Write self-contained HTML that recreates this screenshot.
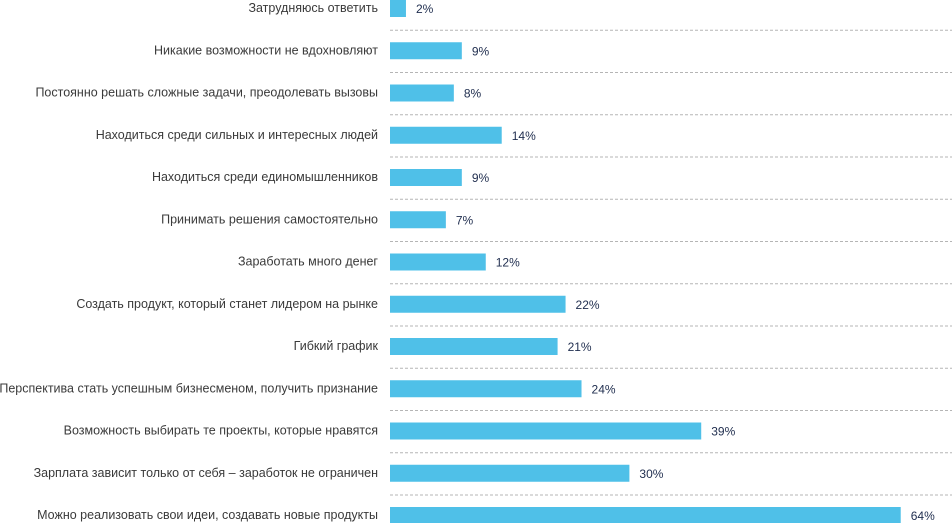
<!DOCTYPE html>
<html><head><meta charset="utf-8"><style>
body{margin:0;background:#fff;width:952px;height:523px;overflow:hidden;font-family:"Liberation Sans",sans-serif}
</style></head><body>
<svg id="c" width="952" height="523"></svg>
<script>
const categories=["Затрудняюсь ответить","Никакие возможности не вдохновляют","Постоянно решать сложные задачи, преодолевать вызовы","Находиться среди сильных и интересных людей","Находиться среди единомышленников","Принимать решения самостоятельно","Заработать много денег","Создать продукт, который станет лидером на рынке","Гибкий график","Перспектива стать успешным бизнесменом, получить признание","Возможность выбирать те проекты, которые нравятся","Зарплата зависит только от себя – заработок не ограничен","Можно реализовать свои идеи, создавать новые продукты"];
const values=[2,9,8,14,9,7,12,22,21,24,39,30,64];
const svg=document.getElementById('c');const NS="http://www.w3.org/2000/svg";
const x0=390,scale=7.98,step=42.25,barH=17;
const xs=v=>x0+v*scale;const ys=i=>i*step;
function mk(t,a){const e=document.createElementNS(NS,t);for(const k in a)e.setAttribute(k,a[k]);svg.appendChild(e);return e;}
categories.forEach((c,i)=>{
 const y=ys(i);
 if(i>0){const l=mk('line',{x1:x0,x2:952,y1:y-12,y2:y-12,stroke:'#b5b5b5','stroke-width':1,'stroke-dasharray':'3,2'});
 
 }
 const r=mk('rect',{x:x0,y:y,width:xs(values[i])-x0,height:barH,fill:'#4fc0e8'});
 
 
 const t=mk('text',{x:378,y:y+12,'text-anchor':'end','font-size':'12.5',fill:'#3a3a3a'});t.textContent=c;
 
 
 const v=mk('text',{x:xs(values[i])+10,y:y+13,'font-size':'12',fill:'#1f2d4e'});v.textContent=values[i]+'%';
 
 
});
</script>
</body></html>
